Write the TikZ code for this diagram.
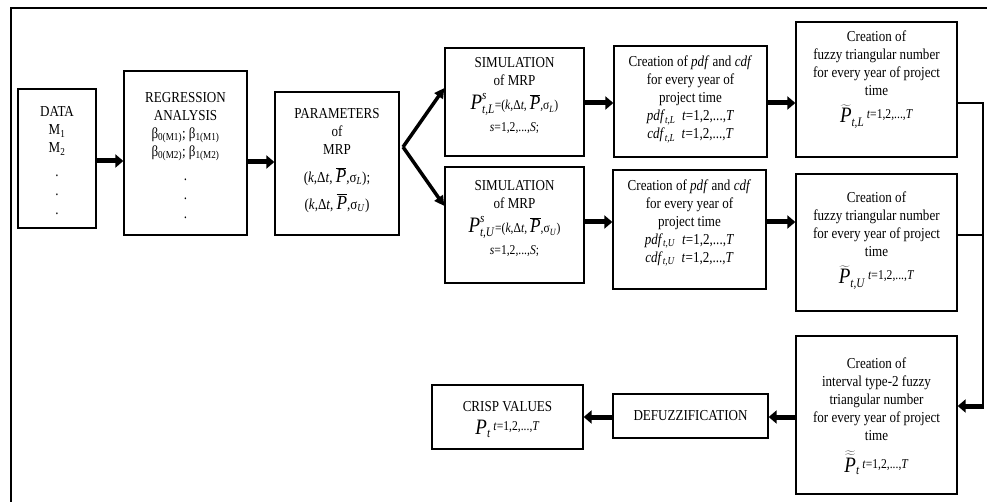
\documentclass[tikz,border=0pt]{standalone}
\usepackage{fontspec}
\setmainfont{Liberation Serif}[FakeStretch=0.86]
\usetikzlibrary{arrows.meta}
\newcommand\bP{{\fontsize{22}{22}\selectfont\textit{P}}}
\newcommand\mP{{\fontsize{20}{20}\selectfont\textit{P}}}
\newcommand\scr[1]{\mbox{\fontsize{13}{13}\selectfont #1}}
\newcommand\sml[1]{{\fontsize{13.5}{15}\selectfont #1}}
\newcommand\barP{$\overline{\hbox{\mP}}$}
\newcommand\tilP{$\widetilde{\hbox{\bP}}$}
\newcommand\ttilP{$\widetilde{\widetilde{\hbox{\bP}}}$}
\newcommand\trange{\raisebox{4pt}{\sml{\textit{t}=1,2,...,\textit{T}}}}
\begin{document}
\begin{tikzpicture}[x=1pt,y=-1pt,
  box/.style={draw, line width=1.3pt, inner sep=0pt},
  txt/.style={align=center, font=\fontsize{15.2}{18}\selectfont, inner sep=0pt},
  big/.style={line width=5pt, -{Triangle[length=8pt,width=13pt]}},
  diag/.style={line width=3.5pt, -{Triangle[length=10pt,width=10pt]}},
  thin/.style={line width=1.3pt}]
\useasboundingbox (0,0) rectangle (987,502);
\draw[line width=2pt] (11,502) -- (11,8) -- (987,8);

% boxes
\node[box, minimum width=78, minimum height=139] (data) at (57,158.5) {};
\node[box, minimum width=123, minimum height=164] (reg) at (185.5,153) {};
\node[box, minimum width=124, minimum height=143] (par) at (337,163.5) {};
\node[box, minimum width=139, minimum height=108] (simL) at (514.5,102) {};
\node[box, minimum width=139, minimum height=116] (simU) at (514.5,225) {};
\node[box, minimum width=153, minimum height=111] (pdfL) at (690.5,101.5) {};
\node[box, minimum width=153, minimum height=119] (pdfU) at (689.5,229.5) {};
\node[box, minimum width=161, minimum height=135] (fuzL) at (876.5,89.5) {};
\node[box, minimum width=161, minimum height=137] (fuzU) at (876.5,242.5) {};
\node[box, minimum width=161, minimum height=158] (int) at (876.5,415) {};
\node[box, minimum width=155, minimum height=44] (def) at (690.5,416) {};
\node[box, minimum width=151, minimum height=64] (crisp) at (507.5,417) {};

% texts
\node[txt] (tdata) at (57,161) {DATA\\M\textsubscript{1}\\M\textsubscript{2}\\[6pt].\\[1pt].\\[1pt].};
\node[txt] (treg) at (185.5,155.5) {REGRESSION\\ANALYSIS\\β\textsubscript{0(M1)}; β\textsubscript{1(M1)}\\β\textsubscript{0(M2)}; β\textsubscript{1(M2)}\\[6pt].\\[1pt].\\[1pt].};
\node[txt] (tpar) at (337,160.5) {PARAMETERS\\of\\MRP\\[10pt](\textit{k},Δ\textit{t}, \barP,σ\textsubscript{\textit{L}});\\[7pt](\textit{k},Δ\textit{t}, \barP,σ\textsubscript{\textit{U}})};
\node[txt] (tsimL) at (514.5,96) {SIMULATION\\of MRP\\[6pt]$\hbox{\bP}^{\scr{\textit{s}}}_{\scr{\textit{t,L}}}$\sml{=(\textit{k},Δ\textit{t}, \barP,σ\textsubscript{\textit{L}})}\\[4pt]\sml{\textit{s}=1,2,...,\textit{S};}};
\node[txt] (tsimU) at (514.5,219) {SIMULATION\\of MRP\\[6pt]$\hbox{\bP}^{\scr{\textit{s}}}_{\scr{\textit{t,U}}}$\sml{=(\textit{k},Δ\textit{t}, \barP,σ\textsubscript{\textit{U}})}\\[4pt]\sml{\textit{s}=1,2,...,\textit{S};}};
\node[txt] (tpdfL) at (690.5,99.5) {Creation of \textit{pdf} and \textit{cdf}\\for every year of\\project time\\\textit{pdf}\textsubscript{\textit{t,L}}~~\textit{t}=1,2,...,\textit{T}\\\textit{cdf}\textsubscript{\textit{t,L}}~~\textit{t}=1,2,...,\textit{T}};
\node[txt] (tpdfU) at (689.5,223) {Creation of \textit{pdf} and \textit{cdf}\\for every year of\\project time\\\textit{pdf}\textsubscript{\textit{t,U}}~~\textit{t}=1,2,...,\textit{T}\\\textit{cdf}\textsubscript{\textit{t,U}}~~\textit{t}=1,2,...,\textit{T}};
\node[txt] (tfuzL) at (876.5,79.5) {Creation of\\fuzzy triangular number\\for every year of project\\time\\[9pt]\tilP$_{\scr{\textit{t,L}}}$\,\trange};
\node[txt] (tfuzU) at (876.5,240.5) {Creation of\\fuzzy triangular number\\for every year of project\\time\\[9pt]\tilP$_{\scr{\textit{t,U}}}$\,\trange};
\node[txt] (tint) at (876.5,416) {Creation of\\interval type-2 fuzzy\\triangular number\\for every year of project\\time\\[10pt]\ttilP$_{\scr{\textit{t}}}$\,\trange};
\node[txt] (tdef) at (690.5,416) {DEFUZZIFICATION};
\node[txt] (tcrisp) at (507.5,419.5) {CRISP VALUES\\[5pt]$\hbox{\bP}_{\scr{\textit{t}}}$\,\trange};

% helper coordinates
\coordinate (h161) at (0,161);
\coordinate (h162) at (0,162);
\coordinate (h103) at (0,103);
\coordinate (h222) at (0,222);
\coordinate (h235) at (0,235);
\coordinate (h406) at (0,406);
\coordinate (h417) at (0,417);
\coordinate (split) at (403,147);
\coordinate (tipL) at (445,88);
\coordinate (tipU) at (445,206);
\coordinate (rail) at (983,103);

% connectors
\draw[big] (data.east |- h161) -- (reg.west |- h161);
\draw[big] (reg.east |- h162) -- (par.west |- h162);
\draw[diag] (split) -- (simL.west |- tipL);
\draw[diag] (split) -- (simU.west |- tipU);
\draw[big] (simL.east |- h103) -- (pdfL.west |- h103);
\draw[big] (simU.east |- h222) -- (pdfU.west |- h222);
\draw[big] (pdfL.east |- h103) -- (fuzL.west |- h103);
\draw[big] (pdfU.east |- h222) -- (fuzU.west |- h222);
\draw[thin] (fuzL.east |- h103) -- (rail) -- (rail |- h406);
\draw[thin] (fuzU.east |- h235) -- (rail |- h235);
\draw[big] ([xshift=0.7pt]rail |- h406) -- (int.east |- h406);
\draw[big] (int.west |- h417) -- (def.east |- h417);
\draw[big] (def.west |- h417) -- (crisp.east |- h417);
\end{tikzpicture}
\end{document}
